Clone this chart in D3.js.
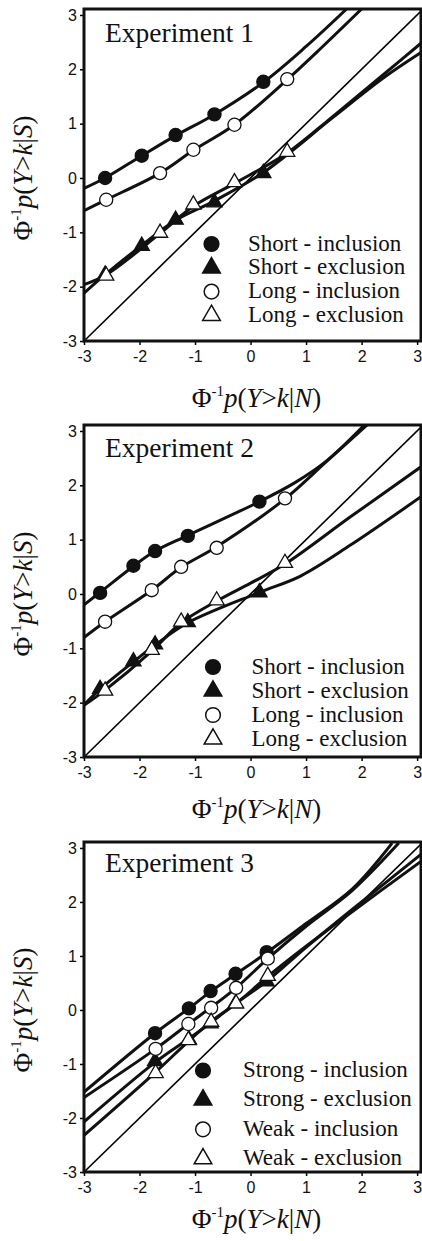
<!DOCTYPE html>
<html>
<head>
<meta charset="utf-8">
<script src="https://cdn.jsdelivr.net/npm/d3@7"></script>
<style>
body { margin: 0; background: #fff; }
.tick text { font-family: 'Liberation Sans', Arial, sans-serif; font-size: 16px; fill: #111; }
</style>
</head>
<body>
<div id="vis"></div>
<script>
// ---- data ----
var ticks = [-3, -2, -1, 0, 1, 2, 3];

// Experiment 1
var exp1ShortX = [-2.62, -1.96, -1.35, -0.65, 0.23];
var exp1ShortInclY = [0.0, 0.41, 0.79, 1.17, 1.77];
var exp1ShortExclY = [-1.78, -1.25, -0.77, -0.45, 0.09];
var exp1LongX = [-2.60, -1.63, -1.03, -0.29, 0.66];
var exp1LongInclY = [-0.40, 0.09, 0.52, 0.98, 1.82];
var exp1LongExclY = [-1.80, -1.01, -0.49, -0.08, 0.48];
var exp1ShortInclFit = [[-3, -0.19], [-2.62, 0.0], [-1.96, 0.41], [-1.35, 0.78], [-0.65, 1.17], [0.23, 1.76], [1.0, 2.42], [1.73, 3.11]];
var exp1LongInclFit = [[-3, -0.60], [-2.60, -0.40], [-1.63, 0.09], [-1.03, 0.51], [-0.29, 0.98], [0.66, 1.81], [1.3, 2.42], [2.0, 3.11]];
var exp1ShortExclFit = [[-3, -2.12], [-2.62, -1.78], [-1.96, -1.24], [-1.35, -0.78], [-0.65, -0.42], [0.23, 0.10], [1.49, 1.12], [2.39, 1.84], [3.07, 2.31]];
var exp1LongExclFit = [[-3, -1.96], [-2.60, -1.78], [-1.63, -1.02], [-1.03, -0.52], [-0.29, -0.10], [0.66, 0.46], [1.49, 1.14], [2.39, 1.90], [3.07, 2.48]];

// Experiment 2
var exp2ShortX = [-2.71, -2.11, -1.72, -1.13, 0.16];
var exp2ShortInclY = [0.02, 0.52, 0.79, 1.07, 1.70];
var exp2ShortExclY = [-1.75, -1.24, -0.93, -0.52, 0.03];
var exp2LongX = [-2.62, -1.78, -1.25, -0.61, 0.62];
var exp2LongInclY = [-0.51, 0.07, 0.50, 0.85, 1.76];
var exp2LongExclY = [-1.78, -1.03, -0.51, -0.12, 0.57];
var exp2ShortInclFit = [[-3, -0.20], [-2.71, 0.03], [-2.11, 0.51], [-1.72, 0.79], [-1.13, 1.08], [0.16, 1.70], [0.8, 2.05], [1.37, 2.45], [2.05, 3.11]];
var exp2LongInclFit = [[-3, -0.80], [-2.62, -0.51], [-1.78, 0.07], [-1.25, 0.49], [-0.61, 0.87], [0.62, 1.75], [1.37, 2.44], [2.1, 3.11]];
var exp2ShortExclFit = [[-3, -2.04], [-2.71, -1.75], [-2.11, -1.25], [-1.72, -0.94], [-1.13, -0.53], [0.16, 0.03], [0.9, 0.33], [1.8, 0.90], [3.07, 1.79]];
var exp2LongExclFit = [[-3, -2.05], [-2.62, -1.77], [-1.78, -1.05], [-1.25, -0.53], [-0.61, -0.13], [0.0, 0.20], [0.62, 0.55], [1.8, 1.42], [3.07, 2.34]];

// Experiment 3
var exp3StrongX = [-1.72, -1.11, -0.72, -0.27, 0.29];
var exp3StrongInclY = [-0.43, 0.03, 0.35, 0.67, 1.07];
var exp3StrongExclY = [-0.95, -0.55, -0.25, 0.12, 0.53];
var exp3WeakX = [-1.71, -1.12, -0.71, -0.26, 0.31];
var exp3WeakInclY = [-0.72, -0.26, 0.04, 0.41, 0.95];
var exp3WeakExclY = [-1.17, -0.56, -0.22, 0.12, 0.63];
var exp3StrongInclFit = [[-3, -1.52], [-1.72, -0.43], [-1.11, 0.03], [-0.72, 0.34], [-0.27, 0.66], [0.29, 1.06], [1.0, 1.60], [1.83, 2.24], [2.55, 3.09]];
var exp3WeakInclFit = [[-3, -1.62], [-1.71, -0.72], [-1.12, -0.26], [-0.71, 0.05], [-0.26, 0.41], [0.31, 0.95], [1.0, 1.55], [1.83, 2.21], [2.67, 3.09]];
var exp3StrongExclFit = [[-3, -2.07], [-1.72, -0.97], [-1.11, -0.53], [-0.72, -0.24], [-0.27, 0.12], [0.29, 0.53], [1.0, 1.16], [1.83, 1.86], [3.07, 2.88]];
var exp3WeakExclFit = [[-3, -2.32], [-1.71, -1.15], [-1.12, -0.58], [-0.71, -0.21], [-0.26, 0.12], [0.31, 0.62], [1.0, 1.18], [1.83, 1.82], [3.07, 2.75]];

var exp1Labels = ["Short - inclusion", "Short - exclusion", "Long - inclusion", "Long - exclusion"];
var exp2Labels = ["Short - inclusion", "Short - exclusion", "Long - inclusion", "Long - exclusion"];
var exp3Labels = ["Strong - inclusion", "Strong - exclusion", "Weak - inclusion", "Weak - exclusion"];

// ---- layout ----
var panels = [
    { title: "Experiment 1", top: 9, bottom: 341, titleY: 33, labels: exp1Labels,
      series: [
        { x: exp1ShortX, y: exp1ShortInclY, fit: exp1ShortInclFit, shape: "circle", filled: true },
        { x: exp1ShortX, y: exp1ShortExclY, fit: exp1ShortExclFit, shape: "triangle", filled: true },
        { x: exp1LongX, y: exp1LongInclY, fit: exp1LongInclFit, shape: "circle", filled: false },
        { x: exp1LongX, y: exp1LongExclY, fit: exp1LongExclFit, shape: "triangle", filled: false }],
      legend: { mx: 211.5, tx: 248, y0: 250.5, step: 23.8 }, xtitle: 66 },
    { title: "Experiment 2", top: 425, bottom: 757, titleY: 32, labels: exp2Labels,
      series: [
        { x: exp2ShortX, y: exp2ShortInclY, fit: exp2ShortInclFit, shape: "circle", filled: true },
        { x: exp2ShortX, y: exp2ShortExclY, fit: exp2ShortExclFit, shape: "triangle", filled: true },
        { x: exp2LongX, y: exp2LongInclY, fit: exp2LongInclFit, shape: "circle", filled: false },
        { x: exp2LongX, y: exp2LongExclY, fit: exp2LongExclFit, shape: "triangle", filled: false }],
      legend: { mx: 213, tx: 251.5, y0: 673.5, step: 24 }, xtitle: 61 },
    { title: "Experiment 3", top: 842, bottom: 1172, titleY: 30, labels: exp3Labels,
      series: [
        { x: exp3StrongX, y: exp3StrongInclY, fit: exp3StrongInclFit, shape: "circle", filled: true },
        { x: exp3StrongX, y: exp3StrongExclY, fit: exp3StrongExclFit, shape: "triangle", filled: true },
        { x: exp3WeakX, y: exp3WeakInclY, fit: exp3WeakInclFit, shape: "circle", filled: false },
        { x: exp3WeakX, y: exp3WeakExclY, fit: exp3WeakExclFit, shape: "triangle", filled: false }],
      legend: { mx: 203, tx: 243, y0: 1077, step: 29.4 }, xtitle: 56 }
];

var W = 422, H = 1241;
var left = 84, right = 421;
var serif = "'Liberation Serif', 'Times New Roman', serif";

var svg = d3.select('#vis')
    .append('svg')
    .attr('width', W)
    .attr('height', H);

svg.append('rect').attr('width', W).attr('height', H).style('fill', 'white');

function axisTitle(sel, cond) {
    sel.append('tspan').text('\u03A6');
    sel.append('tspan').text('-1').attr('font-size', 15).attr('dy', -11);
    sel.append('tspan').text('p').attr('font-style', 'italic').attr('dy', 11);
    sel.append('tspan').text('(');
    sel.append('tspan').text('Y').attr('font-style', 'italic');
    sel.append('tspan').text('>');
    sel.append('tspan').text('k').attr('font-style', 'italic');
    sel.append('tspan').text('|');
    sel.append('tspan').text(cond).attr('font-style', 'italic');
    sel.append('tspan').text(')');
}

panels.forEach(function(p, pi) {
    var x = d3.scaleLinear().domain([-3, 3.07]).range([left, right]);
    var y = d3.scaleLinear().domain([-3, 3.11]).range([p.bottom, p.top]);

    var g = svg.append('g');

    g.append('clipPath').attr('id', 'clip' + pi)
        .append('rect')
        .attr('x', left).attr('y', p.top)
        .attr('width', right - left).attr('height', p.bottom - p.top);

    // axes
    var yAxis = d3.axisLeft(y).tickValues(ticks).tickSize(4).tickPadding(3);
    var xAxis = d3.axisBottom(x).tickValues(ticks).tickSize(4).tickPadding(6);

    var ya = g.append('g').attr('transform', 'translate(' + left + ',0)').call(yAxis);
    var xa = g.append('g').attr('transform', 'translate(0,' + p.bottom + ')').call(xAxis);
    [ya, xa].forEach(function(a) {
        a.select('.domain').remove();
        a.selectAll('line').attr('stroke', '#000').attr('stroke-width', 1.5);
        a.selectAll('text')
            .text(function(d) { return d < 0 ? '-' + Math.abs(d) : d; });
    });

    var plot = g.append('g').attr('clip-path', 'url(#clip' + pi + ')');

    // identity line
    plot.append('line')
        .attr('x1', x(-3)).attr('y1', y(-3))
        .attr('x2', x(3.2)).attr('y2', y(3.2))
        .attr('stroke', '#000').attr('stroke-width', 1.6);

    var line = d3.line()
        .x(function(d) { return x(d[0]); })
        .y(function(d) { return y(d[1]); })
        .curve(d3.curveCatmullRom.alpha(0.5));

    p.series.forEach(function(s) {
        plot.append('path')
            .attr('d', line(s.fit))
            .attr('fill', 'none')
            .attr('stroke', '#111')
            .attr('stroke-width', 3);
    });

    // frame
    g.append('rect')
        .attr('x', left).attr('y', p.top)
        .attr('width', right - left).attr('height', p.bottom - p.top)
        .attr('fill', 'none').attr('stroke', '#111').attr('stroke-width', 3);

    // markers
    p.series.forEach(function(s) {
        var pts = s.x.map(function(v, i) { return [v, s.y[i]]; });
        var sym = d3.symbol()
            .type(s.shape === 'circle' ? d3.symbolCircle : d3.symbolTriangle)
            .size(s.shape === 'circle' ? 135 : 100);
        g.selectAll(null).data(pts).enter()
            .append('path')
            .attr('d', sym)
            .attr('transform', function(d) { return 'translate(' + x(d[0]) + ',' + y(d[1]) + ')'; })
            .attr('fill', s.filled ? '#111' : '#fff')
            .attr('stroke', '#111')
            .attr('stroke-width', 1.3);
    });

    // title
    g.append('text').text(p.title)
        .attr('x', 105).attr('y', p.top + p.titleY)
        .style('font-family', serif).style('font-size', '27.5px').attr('fill', '#111');

    // legend
    p.series.forEach(function(s, i) {
        var ly = p.legend.y0 + i * p.legend.step;
        var sym = d3.symbol()
            .type(s.shape === 'circle' ? d3.symbolCircle : d3.symbolTriangle)
            .size(s.shape === 'circle' ? 170 : 135);
        g.append('path')
            .attr('d', sym)
            .attr('transform', 'translate(' + p.legend.mx + ',' + (ly - 6.5) + ')')
            .attr('fill', s.filled ? '#111' : '#fff')
            .attr('stroke', '#111').attr('stroke-width', 1.5);
        g.append('text').text(p.labels[i])
            .attr('x', p.legend.tx).attr('y', ly)
            .style('font-family', serif).style('font-size', '23px').attr('fill', '#111');
    });

    // axis titles
    var xt = g.append('text')
        .attr('x', (left + right) / 2 + 4).attr('y', p.bottom + p.xtitle)
        .attr('text-anchor', 'middle')
        .style('font-family', serif).style('font-size', '27px').attr('fill', '#111');
    axisTitle(xt, 'N');

    var yt = g.append('text')
        .attr('transform', 'translate(32,' + ((p.top + p.bottom) / 2 + 3) + ')rotate(-90)')
        .attr('text-anchor', 'middle')
        .style('font-family', serif).style('font-size', '27px').attr('fill', '#111');
    axisTitle(yt, 'S');
});
</script>
</body>
</html>
